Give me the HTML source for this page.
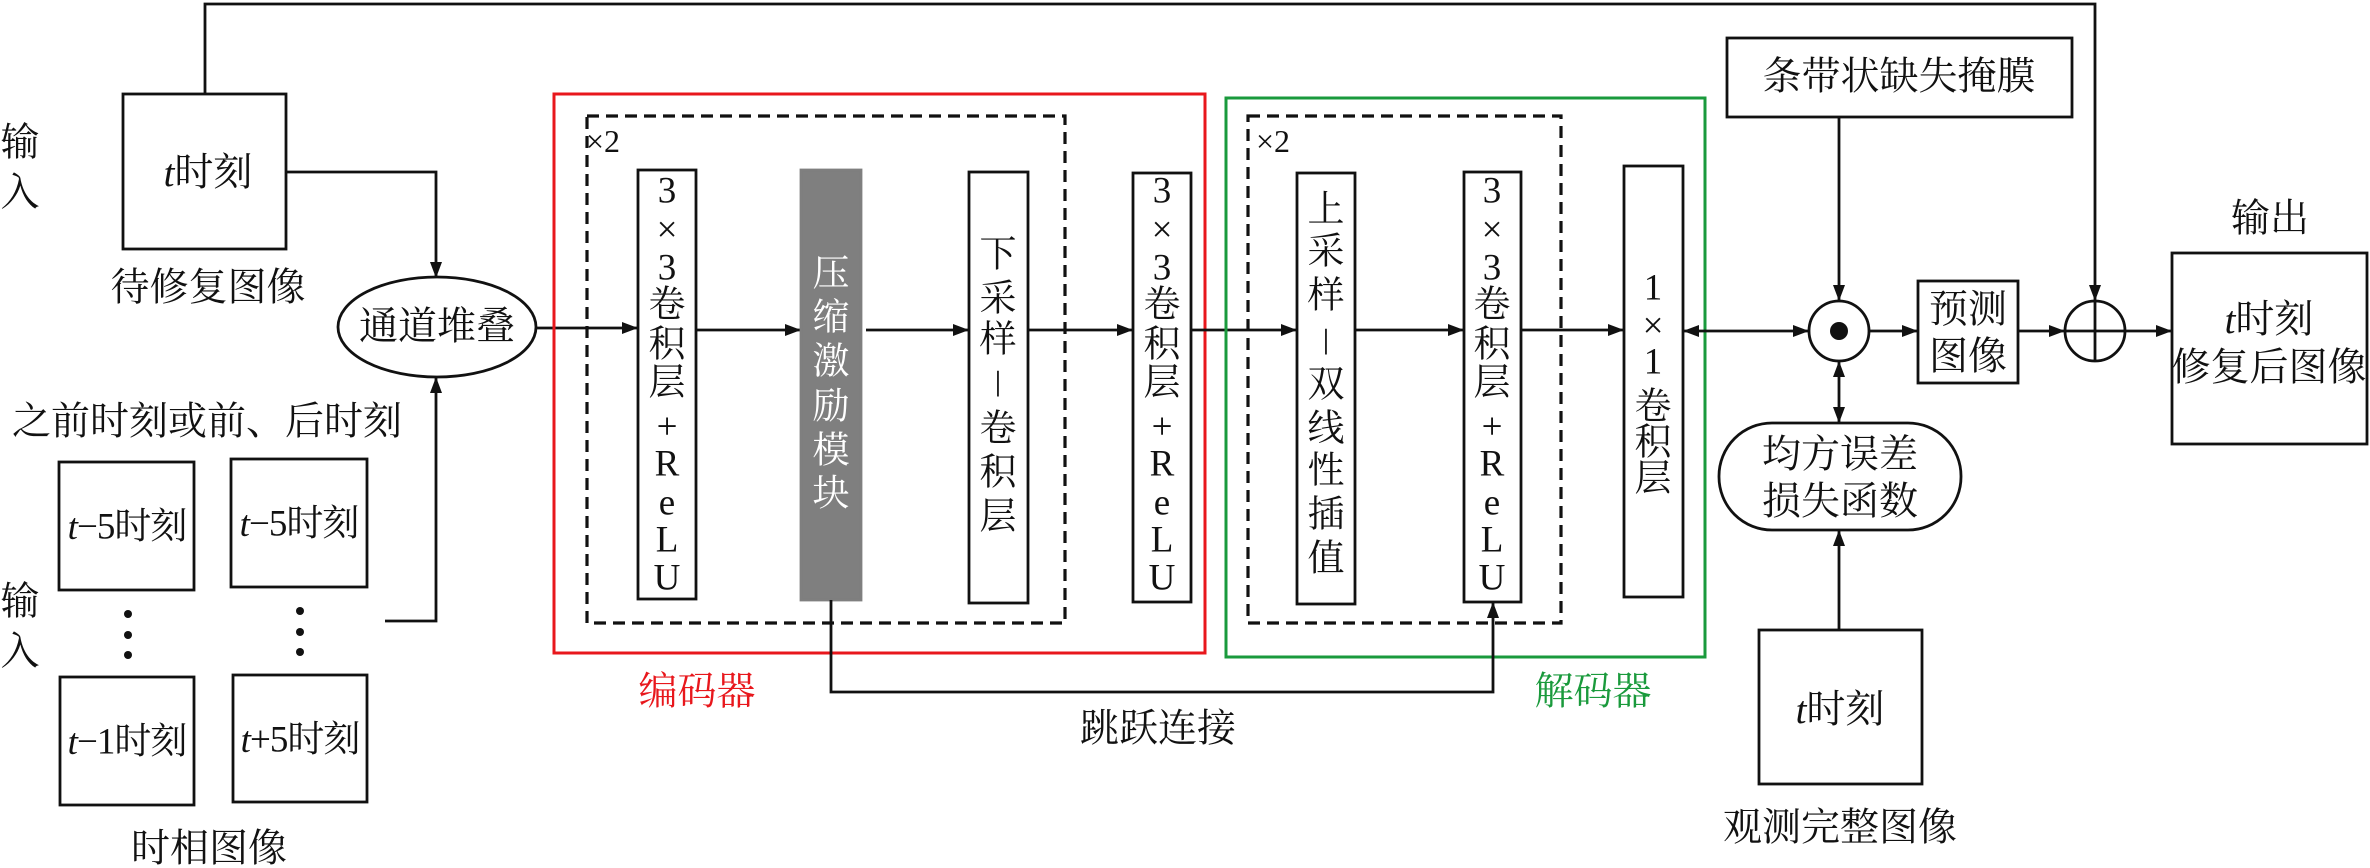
<!DOCTYPE html>
<html><head><meta charset="utf-8"><style>
html,body{margin:0;padding:0;background:#fff;}
svg{display:block;}
text{font-family:"Liberation Serif","Noto Serif CJK SC",serif;fill:#111;}
.c{text-anchor:middle;dominant-baseline:central;}
</style></head><body>
<svg width="2370" height="868" viewBox="0 0 2370 868" xmlns="http://www.w3.org/2000/svg">
<defs>
<marker id="a" viewBox="0 0 16 12" refX="15" refY="6" markerWidth="16" markerHeight="12" markerUnits="userSpaceOnUse" orient="auto-start-reverse"><path d="M0,0 L16,6 L0,12 z" fill="#111"/></marker>
</defs>
<g fill="none" stroke="#111" stroke-width="2.8">
<polyline points="205,94 205,4 2095,4 2095,300" marker-end="url(#a)"/>
<rect x="123" y="94" width="163" height="155"/>
<polyline points="286,172 436,172 436,277" marker-end="url(#a)"/>
<ellipse cx="437" cy="327" rx="99" ry="50"/>
<polyline points="385,621 436,621 436,378" marker-end="url(#a)"/>
<rect x="59" y="462" width="135" height="128"/>
<rect x="231" y="459" width="136" height="128"/>
<rect x="60" y="677" width="134" height="128"/>
<rect x="233" y="675" width="134" height="127"/>
<line x1="536" y1="328" x2="637" y2="328" marker-end="url(#a)"/>
<rect x="554" y="94" width="651" height="559" stroke="#e8171c" stroke-width="3"/>
<rect x="587" y="116" width="478" height="507" stroke-dasharray="12,7" stroke-width="3.2"/>
<rect x="638" y="170" width="58" height="429"/>
<line x1="696" y1="330" x2="800" y2="330" marker-end="url(#a)"/>
<rect x="801" y="170" width="60" height="430" fill="#7f7f7f" stroke="#7f7f7f"/>
<line x1="866" y1="330" x2="968" y2="330" marker-end="url(#a)"/>
<rect x="969" y="172" width="59" height="431"/>
<line x1="1028" y1="330" x2="1132" y2="330" marker-end="url(#a)"/>
<rect x="1133" y="173" width="58" height="429"/>
<line x1="1191" y1="330" x2="1296" y2="330" marker-end="url(#a)"/>
<rect x="1226" y="98" width="479" height="559" stroke="#1a9a3c" stroke-width="3"/>
<rect x="1248" y="116" width="313" height="507" stroke-dasharray="12,7" stroke-width="3.2"/>
<rect x="1297" y="173" width="58" height="431"/>
<line x1="1355" y1="330" x2="1463" y2="330" marker-end="url(#a)"/>
<rect x="1464" y="172" width="57" height="430"/>
<line x1="1521" y1="330" x2="1623" y2="330" marker-end="url(#a)"/>
<polyline points="831,600 831,692 1493,692 1493,603" marker-end="url(#a)"/>
<rect x="1624" y="166" width="59" height="431"/>
<line x1="1684" y1="331" x2="1808" y2="331" marker-start="url(#a)" marker-end="url(#a)"/>
<rect x="1727" y="38" width="345" height="79"/>
<line x1="1839" y1="117" x2="1839" y2="300" marker-end="url(#a)"/>
<circle cx="1839" cy="331" r="30"/>
<line x1="1869" y1="331" x2="1917" y2="331" marker-end="url(#a)"/>
<rect x="1918" y="281" width="100" height="102"/>
<line x1="2018" y1="331" x2="2064" y2="331" marker-end="url(#a)"/>
<circle cx="2095" cy="331" r="30"/>
<line x1="2065" y1="331" x2="2125" y2="331"/>
<line x1="2095" y1="301" x2="2095" y2="361"/>
<line x1="2125" y1="331" x2="2171" y2="331" marker-end="url(#a)"/>
<rect x="2172" y="253" width="195" height="191"/>
<line x1="1839" y1="362" x2="1839" y2="422" marker-start="url(#a)" marker-end="url(#a)"/>
<rect x="1719" y="423" width="242" height="107" rx="53" ry="53"/>
<line x1="1839" y1="630" x2="1839" y2="531" marker-end="url(#a)"/>
<rect x="1759" y="630" width="163" height="154"/>
</g>
<circle cx="1839" cy="331" r="9" fill="#111"/>
<g fill="#111">
<circle cx="128" cy="614" r="4"/><circle cx="128" cy="635" r="4"/><circle cx="128" cy="655" r="4"/>
<circle cx="300" cy="611" r="4"/><circle cx="300" cy="632" r="4"/><circle cx="300" cy="652" r="4"/>
</g>
<g font-size="39">
<text x="20" y="143" class="c">输</text><text x="20" y="193" class="c">入</text>
<text x="20" y="602" class="c">输</text><text x="20" y="652" class="c">入</text>
<text x="208" y="173" class="c"><tspan font-style="italic">t</tspan>时刻</text>
<text x="208" y="288" class="c">待修复图像</text>
<text x="437" y="327" class="c">通道堆叠</text>
<text x="207" y="422" class="c">之前时刻或前、后时刻</text>
<text x="127" y="527" class="c" font-size="37" letter-spacing="-1"><tspan font-style="italic">t</tspan>−5时刻</text>
<text x="299" y="524" class="c" font-size="37" letter-spacing="-1"><tspan font-style="italic">t</tspan>−5时刻</text>
<text x="127" y="742" class="c" font-size="37" letter-spacing="-1"><tspan font-style="italic">t</tspan>−1时刻</text>
<text x="300" y="740" class="c" font-size="37" letter-spacing="-1"><tspan font-style="italic">t</tspan>+5时刻</text>
<text x="209" y="849" class="c">时相图像</text>
<text x="697" y="692" class="c" style="fill:#e8171c">编码器</text>
<text x="1158" y="729" class="c">跳跃连接</text>
<text x="1593" y="692" class="c" style="fill:#1a9a3c">解码器</text>
<text x="1899" y="77" class="c">条带状缺失掩膜</text>
<text x="1968" y="310" class="c">预测</text>
<text x="1968" y="357" class="c">图像</text>
<text x="2270" y="219" class="c">输出</text>
<text x="2269" y="320" class="c"><tspan font-style="italic">t</tspan>时刻</text>
<text x="2269" y="368" class="c">修复后图像</text>
<text x="1840" y="455" class="c">均方误差</text>
<text x="1840" y="502" class="c">损失函数</text>
<text x="1840" y="710" class="c"><tspan font-style="italic">t</tspan>时刻</text>
<text x="1840" y="828" class="c">观测完整图像</text>
</g>
<g font-size="32">
<text x="603" y="141" class="c">×2</text>
<text x="1273" y="141" class="c">×2</text>
</g>
<g font-size="37">
<text x="667" y="191" class="c">3</text><text x="667" y="230" class="c">×</text><text x="667" y="268" class="c">3</text>
<text x="667" y="305" class="c">卷</text><text x="667" y="345" class="c">积</text><text x="667" y="383" class="c">层</text>
<text x="667" y="427" class="c">+</text><text x="667" y="464" class="c">R</text><text x="667" y="503" class="c">e</text><text x="667" y="540" class="c">L</text><text x="667" y="578" class="c">U</text>
<text x="831" y="274" class="c" style="fill:#fff">压</text><text x="831" y="318" class="c" style="fill:#fff">缩</text><text x="831" y="362" class="c" style="fill:#fff">激</text>
<text x="831" y="407" class="c" style="fill:#fff">励</text><text x="831" y="451" class="c" style="fill:#fff">模</text><text x="831" y="494" class="c" style="fill:#fff">块</text>
<text x="998" y="255" class="c">下</text><text x="998" y="299" class="c">采</text><text x="998" y="340" class="c">样</text>
<text x="998" y="385" class="c">ǀ</text><text x="998" y="429" class="c">卷</text><text x="998" y="473" class="c">积</text><text x="998" y="517" class="c">层</text>
<text x="1162" y="191" class="c">3</text><text x="1162" y="230" class="c">×</text><text x="1162" y="268" class="c">3</text>
<text x="1162" y="305" class="c">卷</text><text x="1162" y="345" class="c">积</text><text x="1162" y="383" class="c">层</text>
<text x="1162" y="427" class="c">+</text><text x="1162" y="464" class="c">R</text><text x="1162" y="503" class="c">e</text><text x="1162" y="540" class="c">L</text><text x="1162" y="578" class="c">U</text>
<text x="1326" y="210" class="c">上</text><text x="1326" y="252" class="c">采</text><text x="1326" y="296" class="c">样</text>
<text x="1326" y="343" class="c">ǀ</text><text x="1326" y="385" class="c">双</text><text x="1326" y="429" class="c">线</text>
<text x="1326" y="471" class="c">性</text><text x="1326" y="515" class="c">插</text><text x="1326" y="559" class="c">值</text>
<text x="1492" y="191" class="c">3</text><text x="1492" y="230" class="c">×</text><text x="1492" y="268" class="c">3</text>
<text x="1492" y="305" class="c">卷</text><text x="1492" y="345" class="c">积</text><text x="1492" y="383" class="c">层</text>
<text x="1492" y="427" class="c">+</text><text x="1492" y="464" class="c">R</text><text x="1492" y="503" class="c">e</text><text x="1492" y="540" class="c">L</text><text x="1492" y="578" class="c">U</text>
<text x="1653" y="288" class="c">1</text><text x="1653" y="326" class="c">×</text><text x="1653" y="362" class="c">1</text>
<text x="1653" y="407" class="c">卷</text><text x="1653" y="443" class="c">积</text><text x="1653" y="479" class="c">层</text>
</g>
</svg>
</body></html>
